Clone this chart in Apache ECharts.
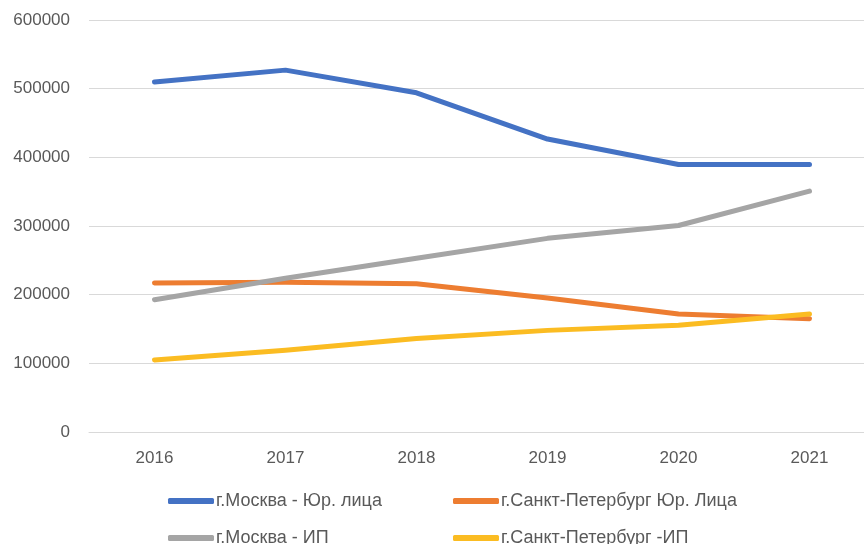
<!DOCTYPE html>
<html>
<head>
<meta charset="utf-8">
<script src="https://cdn.jsdelivr.net/npm/echarts@6/dist/echarts.min.js"></script>
<style>
  html, body { margin: 0; padding: 0; background: #fff; }
  #chart { width: 864px; height: 544px; }
</style>
</head>
<body>
<div id="chart"></div>
<script>
var years = ['2016', '2017', '2018', '2019', '2020', '2021'];
var mskLegal = [509600, 527000, 494000, 426600, 389500, 389500];
var spbLegal = [216900, 218000, 216000, 195000, 172000, 165000];
var mskIp = [192700, 224000, 253000, 282000, 300700, 350900];
var spbIp = [105000, 119000, 136000, 148000, 155300, 172000];

var names = [
    'г.Москва - Юр. лица',
    'г.Санкт-Петербург Юр. Лица',
    'г.Москва - ИП',
    'г.Санкт-Петербург -ИП'
];
var colors = ['#4472C4', '#ED7D31', '#A5A5A5', '#FBBC22'];
var values = [mskLegal, spbLegal, mskIp, spbIp];

var textColor = '#595959';
var font = 'Liberation Sans, Arial, sans-serif';

// one legend per item so the two columns line up
var legendPos = [[168, 492], [453, 492], [168, 529], [453, 529]];
var legends = names.map(function(n, i) {
    return {
        data: [n],
        left: legendPos[i][0],
        top: legendPos[i][1],
        icon: 'roundRect',
        itemWidth: 46,
        itemHeight: 6,
        itemGap: 0,
        padding: 0,
        textStyle: {color: textColor, fontSize: 18, fontFamily: font, padding: [0, 0, 0, -3]}
    };
});

var series = names.map(function(n, i) {
    return {
        name: n,
        type: 'line',
        data: values[i],
        showSymbol: false,
        symbol: 'none',
        color: colors[i],
        lineStyle: {width: 5, color: colors[i], cap: 'round', join: 'round'}
    };
});

var myChart = echarts.init(document.getElementById('chart'), null, {renderer: 'canvas'});
myChart.setOption({
    animation: false,
    textStyle: {fontFamily: font},
    grid: {left: 89, top: 20, width: 786, height: 412, outerBoundsMode: 'none'},
    legend: legends,
    xAxis: {
        type: 'category',
        data: years,
        boundaryGap: true,
        axisLine: {show: true, lineStyle: {color: '#D9D9D9', width: 1}},
        axisTick: {show: false},
        axisLabel: {color: textColor, fontSize: 17, margin: 18, fontFamily: font}
    },
    yAxis: {
        type: 'value',
        min: 0,
        max: 600000,
        interval: 100000,
        axisLine: {show: false},
        axisTick: {show: false},
        splitLine: {lineStyle: {color: '#D9D9D9', width: 1}},
        axisLabel: {
            color: textColor, fontSize: 17, margin: 19, fontFamily: font,
            formatter: function(v) { return String(v); }
        }
    },
    series: series
});
</script>
</body>
</html>
